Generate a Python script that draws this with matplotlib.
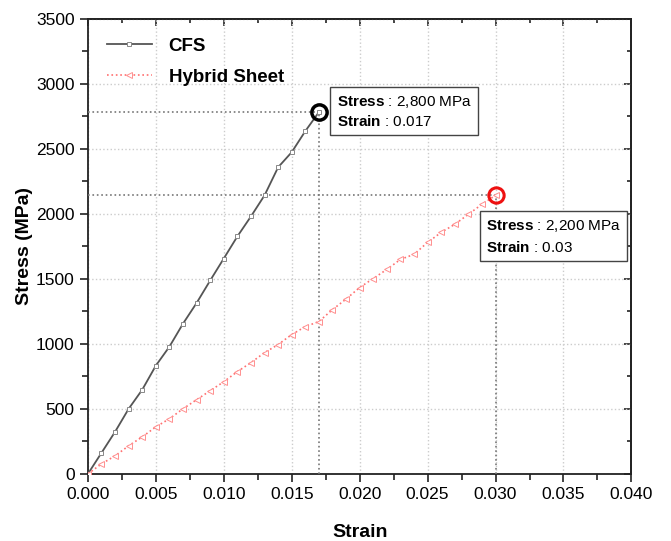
import numpy as np
import matplotlib
matplotlib.use("Agg")
import matplotlib.pyplot as plt
from matplotlib.ticker import MultipleLocator, NullFormatter

plt.rcParams['font.family'] = ['Liberation Sans', 'DejaVu Sans']
plt.rcParams['mathtext.fontset'] = 'custom'
plt.rcParams['mathtext.rm'] = 'Liberation Sans'
plt.rcParams['mathtext.bf'] = 'Liberation Sans:bold'

# CFS data (strain, stress in MPa)
cfs_strain = [0.000, 0.001, 0.002, 0.003, 0.004, 0.005, 0.006, 0.007, 0.008, 0.009,
              0.010, 0.011, 0.012, 0.013, 0.014, 0.015, 0.016, 0.017]
cfs_stress = [0, 162, 324, 501, 648, 833, 979, 1156, 1315, 1488,
              1657, 1827, 1981, 2143, 2359, 2475, 2637, 2783]

# Hybrid sheet data
hyb_strain = [0.000, 0.001, 0.002, 0.003, 0.004, 0.005, 0.006, 0.007, 0.008, 0.009,
              0.010, 0.011, 0.012, 0.013, 0.014, 0.015, 0.016, 0.017, 0.018, 0.019,
              0.020, 0.021, 0.022, 0.023, 0.024, 0.025, 0.026, 0.027, 0.028, 0.029, 0.030]
hyb_stress = [0, 77, 139, 216, 285, 362, 424, 501, 571, 640,
              709, 787, 856, 933, 995, 1072, 1133, 1172, 1264, 1345,
              1434, 1503, 1573, 1650, 1689, 1781, 1858, 1920, 1997, 2074, 2143]

fig = plt.figure(figsize=(6.71, 5.41), dpi=100)
ax = fig.add_axes([0.131, 0.124, 0.810, 0.841])

ax.plot(cfs_strain, cfs_stress, color='#555555', linewidth=1.3, marker='s',
        markersize=3.2, markerfacecolor='white', markeredgecolor='#888888',
        markeredgewidth=0.7, label='CFS', zorder=4)
ax.plot(hyb_strain, hyb_stress, color='#ff7070', linewidth=1.2, linestyle=':',
        marker='<', markersize=4.2, markerfacecolor='white', markeredgecolor='#ff9090',
        markeredgewidth=0.7, label='Hybrid Sheet', zorder=4)

# end points highlighted
ax.plot(cfs_strain[-1], cfs_stress[-1], 'o', markersize=11, markerfacecolor='none',
        markeredgecolor='black', markeredgewidth=2.5, zorder=5)
ax.plot(hyb_strain[-1], hyb_stress[-1], 'o', markersize=11, markerfacecolor='none',
        markeredgecolor='#ee1111', markeredgewidth=2.2, zorder=5)

# guide lines to the axes
ax.plot([0, cfs_strain[-1]], [cfs_stress[-1]] * 2, color='#777777', linestyle=':', linewidth=1.2, zorder=3)
ax.plot([cfs_strain[-1]] * 2, [0, cfs_stress[-1]], color='#777777', linestyle=':', linewidth=1.2, zorder=3)
ax.plot([0, hyb_strain[-1]], [hyb_stress[-1]] * 2, color='#777777', linestyle=':', linewidth=1.2, zorder=3)
ax.plot([hyb_strain[-1]] * 2, [0, hyb_stress[-1]], color='#777777', linestyle=':', linewidth=1.2, zorder=3)

# annotation boxes
box = dict(boxstyle='square,pad=0.4', facecolor='white', edgecolor='#444444', linewidth=1.0)
ax.text(0.0183, 2790, r'$\bf{Stress}$ : 2,800 MPa' + '\n' + r'$\bf{Strain}$ : 0.017',
        fontsize=11, va='center', ha='left', bbox=box, linespacing=1.35, zorder=6)
ax.text(0.0293, 1825, r'$\bf{Stress}$ : 2,200 MPa' + '\n' + r'$\bf{Strain}$ : 0.03',
        fontsize=11, va='center', ha='left', bbox=box, linespacing=1.5, zorder=6)

ax.set_xlim(0, 0.040)
ax.set_ylim(0, 3500)
ax.xaxis.set_major_locator(MultipleLocator(0.005))
ax.xaxis.set_minor_locator(MultipleLocator(0.0025))
ax.yaxis.set_major_locator(MultipleLocator(500))
ax.yaxis.set_minor_locator(MultipleLocator(250))
ax.set_xticklabels([f'{v:.3f}' for v in ax.get_xticks()])

ax.grid(True, which='major', color='#cccccc', linestyle=':', linewidth=1.0)
ax.set_axisbelow(True)

ax.tick_params(axis='both', which='both', direction='out', labelsize=12.5, width=1.2, color='#222222')
ax.tick_params(axis='both', which='major', length=6)
ax.tick_params(axis='both', which='minor', length=4)
for spine in ax.spines.values():
    spine.set_linewidth(1.3)
    spine.set_color('#222222')

# inward ticks on top and right
top = ax.secondary_xaxis('top')
right = ax.secondary_yaxis('right')
for sec, axis in ((top, top.xaxis), (right, right.yaxis)):
    axis.set_major_locator(MultipleLocator(0.005 if sec is top else 500))
    axis.set_minor_locator(MultipleLocator(0.0025 if sec is top else 250))
    axis.set_major_formatter(NullFormatter())
    sec.tick_params(which='both', direction='in', width=1.2, color='#222222')
    sec.tick_params(which='major', length=5)
    sec.tick_params(which='minor', length=3)
    for spine in sec.spines.values():
        spine.set_linewidth(1.3)
        spine.set_color('#222222')

ax.set_xlabel('Strain', fontsize=14, fontweight='bold', labelpad=16)
ax.set_ylabel('Stress (MPa)', fontsize=14, fontweight='bold', labelpad=2)

leg = ax.legend(loc='upper left', frameon=False, fontsize=13.5, handlelength=2.4,
                handletextpad=0.9, borderaxespad=0.6, labelspacing=0.75)
for t in leg.get_texts():
    t.set_fontweight('bold')

fig.savefig('out.png', dpi=100)
